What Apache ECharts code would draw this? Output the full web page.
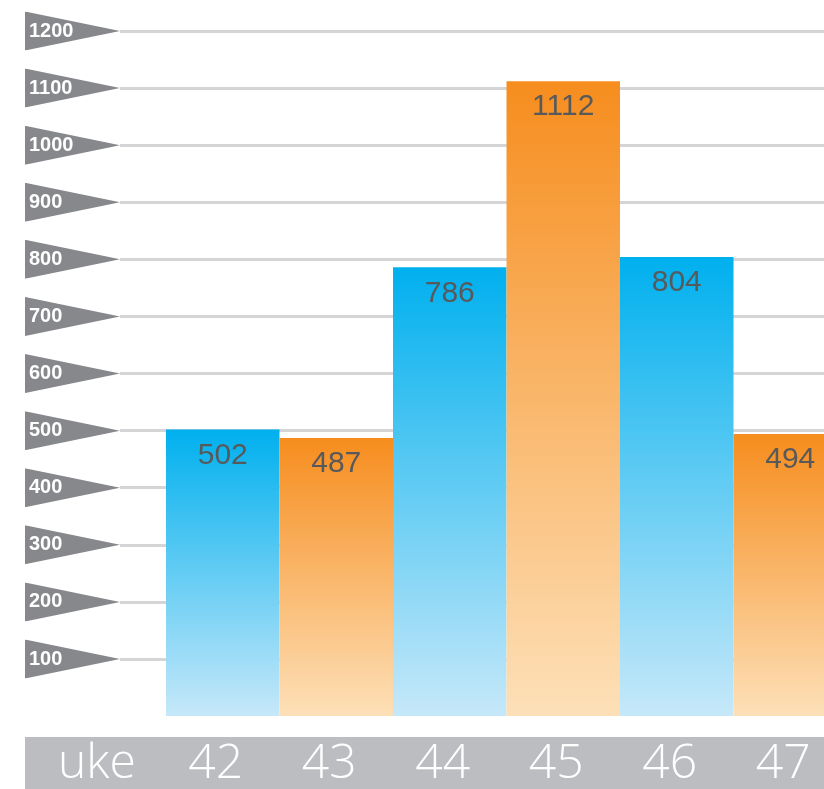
<!DOCTYPE html>
<html><head><meta charset="utf-8">
<script src="https://cdn.jsdelivr.net/npm/echarts@6/dist/echarts.min.js"></script>
<style>html,body{margin:0;padding:0;background:#fff}#c{width:824px;height:789px}</style>
</head><body><div id="c"></div>
<script>
const weeks = ['42','43','44','45','46','47'];
const values = [502, 487, 786, 1112, 804, 494];
const tickValues = [100,200,300,400,500,600,700,800,900,1000,1100,1200];
const axisWord = 'uke';

const blueGrad = {type:'linear',x:0,y:0,x2:0,y2:1,colorStops:[{offset:0,color:'#00b0ee'},{offset:1,color:'#c6e8f9'}]};
const orangeGrad = {type:'linear',x:0,y:0,x2:0,y2:1,colorStops:[{offset:0,color:'#f68d1e'},{offset:1,color:'#fde0b8'}]};

const tri = 'data:image/svg+xml;utf8,' + encodeURIComponent('<svg xmlns="http://www.w3.org/2000/svg" width="95" height="39" viewBox="0 0 95 39" preserveAspectRatio="none"><polygon points="0,0 95,19.5 0,39" fill="#87888c"/></svg>');

const chart = echarts.init(document.getElementById('c'), null, {renderer:'canvas'});
chart.setOption({
  animation:false,
  backgroundColor:'#fff',
  graphic:[
    {type:'rect', z:-10, shape:{x:25,y:737,width:799,height:52}, style:{fill:'#bcbdc1'}},
    {type:'text', z:10, left:58, top:740, style:{text:axisWord, fill:'#fff', font:'300 48px "Open Sans"'}}
  ],
  grid:[
    {left:120, right:0, top:31, bottom:130, outerBoundsMode:'none', containLabel:false},
    {left:166, right:-23, top:31, bottom:73, outerBoundsMode:'none', containLabel:false}
  ],
  xAxis:[
    {gridIndex:0, type:'value', show:false, min:0, max:1},
    {gridIndex:1, type:'category', data:weeks, boundaryGap:true,
     axisLine:{show:false}, axisTick:{show:false},
     axisLabel:{color:'#fff', fontSize:48, fontFamily:'Open Sans', fontWeight:300, margin:24, padding:[0,14,0,0]}}
  ],
  yAxis:[
    {gridIndex:0, type:'value', min:tickValues[0], max:tickValues[tickValues.length-1], interval:100,
     axisLine:{show:false}, axisTick:{show:false},
     splitLine:{show:true, lineStyle:{color:'#d5d5d7', width:3}},
     axisLabel:{margin:0, formatter:v=>'{f|'+v+'}',
       rich:{f:{width:91, height:39, padding:[0,0,0,4], align:'left', backgroundColor:{image:tri},
         color:'#fff', fontWeight:'bold', fontSize:20, fontFamily:'Liberation Sans'}}}},
    {gridIndex:1, type:'value', min:0, max:1200, interval:100, show:false, splitLine:{show:false}}
  ],
  series:[{
    type:'bar', xAxisIndex:1, yAxisIndex:1, barCategoryGap:0, z:5,
    data: values.map((v,i)=>({value:v, itemStyle:{color: i%2===0 ? blueGrad : orangeGrad}})),
    label:{show:true, position:'insideTop', distance:11, color:'#58595b', fontSize:30, fontFamily:'Liberation Sans'}
  }]
});
</script>
</body></html>
